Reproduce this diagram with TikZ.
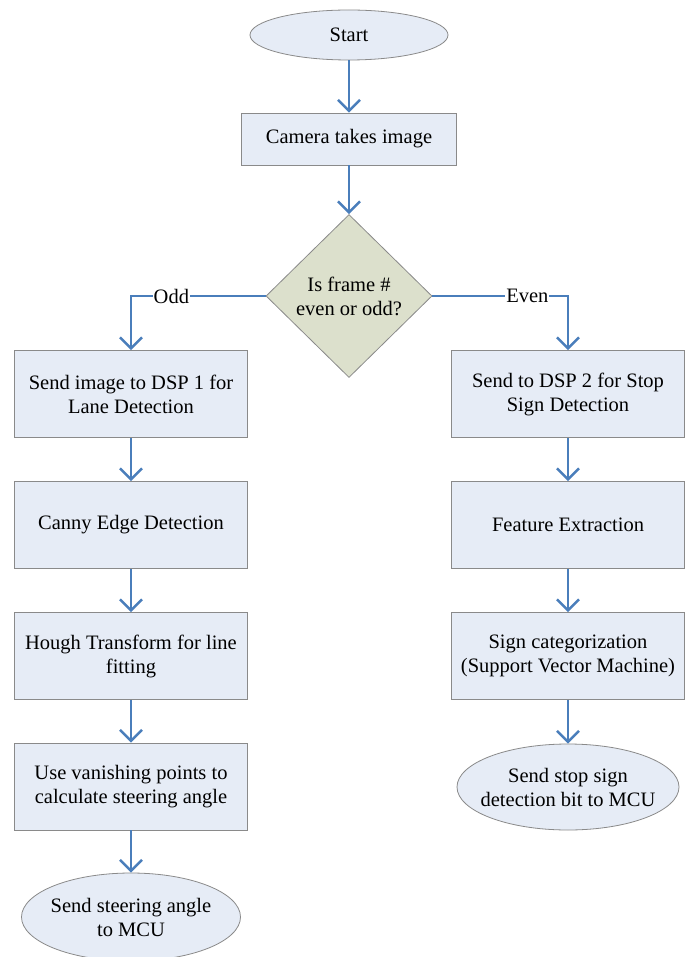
\documentclass[tikz,border=0pt]{standalone}
\usepackage{fontspec}
\setmainfont{Liberation Serif}
\usetikzlibrary{shapes.geometric,arrows.meta}
\definecolor{boxfill}{HTML}{E6ECF6}
\definecolor{boxline}{HTML}{8A8A8A}
\definecolor{decfill}{HTML}{DCE0CC}
\definecolor{flow}{HTML}{4A7EBB}
\begin{document}
\begin{tikzpicture}[x=1pt,y=-1pt,
  every node/.style={font=\fontsize{20.5}{24}\selectfont, align=center, inner sep=0pt},
  procbox/.style={draw=boxline, fill=boxfill, line width=0.8pt, rectangle},
  termnode/.style={draw=boxline, fill=boxfill, line width=0.8pt, ellipse, inner xsep=-40pt, inner ysep=-10pt},
  decnode/.style={draw=boxline, fill=decfill, line width=0.8pt, diamond},
  flowline/.style={draw=flow, line width=2.5pt, -{Straight Barb[length=11pt,width=22pt,line width=2.5pt]}},
  branchlabel/.style={fill=white, inner xsep=1pt, inner ysep=2pt}]
\useasboundingbox (0,0) rectangle (688,957);
\fill[white] (0,0) rectangle (688,957);
\begin{scope}
\clip (0,0) rectangle (688,957);
% top of the chart
\node[termnode, minimum width=198pt, minimum height=50pt] (start) at (349,35) {Start};
\node[procbox, minimum width=215pt, minimum height=52pt] (cam) at (349,139) {Camera takes image};
\node[decnode, minimum width=166pt, minimum height=163pt, aspect=1.02] (dec) at (349,296) {Is frame \#\\even or odd?};
% lane detection column
\node[procbox, minimum width=233pt, minimum height=87pt] (l1) at (131,394) {Send image to DSP 1 for\\Lane Detection};
\node[procbox, minimum width=233pt, minimum height=87pt] (l2) at (131,525) {Canny Edge Detection};
\node[procbox, minimum width=233pt, minimum height=87pt] (l3) at (131,656) {Hough Transform for line\\fitting};
\node[procbox, minimum width=233pt, minimum height=87pt] (l4) at (131,786.5) {Use vanishing points to\\calculate steering angle};
\node[termnode, minimum width=219pt, minimum height=88pt] (lend) at (131,917) {Send steering angle\\to MCU};
% stop sign column
\node[procbox, minimum width=233pt, minimum height=87pt] (r1) at (568,394) {Send to DSP 2 for Stop\\Sign Detection};
\node[procbox, minimum width=233pt, minimum height=87pt] (r2) at (568,525) {Feature Extraction};
\node[procbox, minimum width=233pt, minimum height=87pt] (r3) at (568,656) {Sign categorization\\(Support Vector Machine)};
\node[termnode, minimum width=222pt, minimum height=86pt] (rend) at (568,787) {Send stop sign\\detection bit to MCU};
% connectors
\draw[flowline] (start) -- (cam);
\draw[flowline] (cam) -- (dec);
\draw[flowline] (dec.west) -| node[branchlabel, pos=0.35] {Odd} (l1.north);
\draw[flowline] (dec.east) -| node[branchlabel, pos=0.35] {Even} (r1.north);
\draw[flowline] (l1) -- (l2);
\draw[flowline] (l2) -- (l3);
\draw[flowline] (l3) -- (l4);
\draw[flowline] (l4) -- (lend);
\draw[flowline] (r1) -- (r2);
\draw[flowline] (r2) -- (r3);
\draw[flowline] (r3) -- (rend);
\end{scope}
\end{tikzpicture}
\end{document}
